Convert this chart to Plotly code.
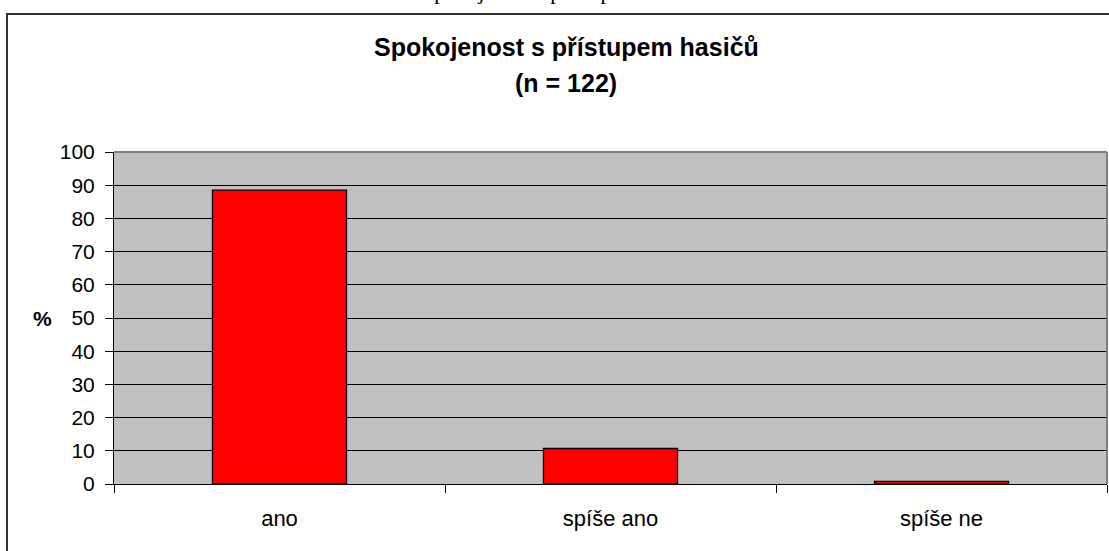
import plotly.graph_objects as go

categories = ["ano", "spíše ano", "spíše ne"]
values = [88.5, 10.7, 0.8]
y_ticks = list(range(0, 101, 10))
title_line1 = "Spokojenost s přístupem hasičů"
title_line2 = "(n = 122)"
page_caption = "Spokojenost s přístupem hasičů"
y_label = "%"

W, H = 1109, 551
L, R, T, B = 114, 2, 152, 67
pw = W - L - R
ph = H - T - B

def px_x(p):
    return (p - L) / pw

def px_y(p):
    return (H - B - p) / ph

fig = go.Figure()
fig.add_trace(go.Bar(
    x=categories, y=values,
    marker=dict(color="#FF0000", line=dict(color="black", width=1.3)),
    hoverinfo="skip",
))

font = "Liberation Sans, Arial, sans-serif"
fig.update_layout(
    width=W, height=H,
    margin=dict(l=L, r=R, t=T, b=B, pad=0),
    paper_bgcolor="white",
    plot_bgcolor="#C0C0C0",
    bargap=0.595,
    showlegend=False,
    hovermode=False,
    xaxis=dict(
        type="category", tickson="boundaries", ticks="outside", ticklen=8,
        tickcolor="black", tickwidth=1, showgrid=False, showline=True,
        linecolor="black", linewidth=1,
        tickfont=dict(family=font, size=22, color="black"),
        ticklabelstandoff=15,
    ),
    yaxis=dict(
        range=[0, 100], tickvals=y_ticks, ticks="outside", ticklen=8,
        tickcolor="black", tickwidth=1, showgrid=True, gridcolor="black",
        gridwidth=1, showline=True, linecolor="black", linewidth=1,
        zeroline=False,
        tickfont=dict(family=font, size=21, color="black"),
        ticklabelstandoff=6,
    ),
)

shapes = [
    # outer chart frame
    dict(type="rect", xref="paper", yref="paper",
         x0=px_x(7), x1=px_x(1130), y0=px_y(570), y1=px_y(14),
         line=dict(color="#333333", width=2), fillcolor="rgba(0,0,0,0)", layer="below"),
    # plot area border top/right (gray)
    dict(type="line", xref="paper", yref="paper", x0=0, x1=1, y0=1, y1=1,
         line=dict(color="#808080", width=2), layer="above"),
    dict(type="line", xref="paper", yref="paper", x0=1, x1=1, y0=0, y1=1,
         line=dict(color="#808080", width=2), layer="above"),
]
fig.update_layout(shapes=shapes)

annotations = [
    dict(text=f"<b>{title_line1}</b>", xref="paper", yref="paper",
         x=px_x(566), y=px_y(47), xanchor="center", yanchor="middle",
         showarrow=False, font=dict(family=font, size=25, color="black")),
    dict(text=f"<b>{title_line2}</b>", xref="paper", yref="paper",
         x=px_x(566), y=px_y(83), xanchor="center", yanchor="middle",
         showarrow=False, font=dict(family=font, size=25, color="black")),
    dict(text=f"<b>{y_label}</b>", xref="paper", yref="paper",
         x=px_x(42), y=0.5, xanchor="center", yanchor="middle",
         showarrow=False, font=dict(family=font, size=21, color="black")),
    dict(text=page_caption, xref="paper", yref="paper",
         x=px_x(420), y=px_y(-9), xanchor="left", yanchor="middle",
         showarrow=False, font=dict(family="Liberation Serif, Times New Roman, serif", size=22, color="black")),
]
fig.update_layout(annotations=annotations)

fig.write_html(
    "out.html",
    config={"displayModeBar": False, "staticPlot": True},
    post_script="document.body.style.margin='0';document.body.style.overflow='hidden';",
)
